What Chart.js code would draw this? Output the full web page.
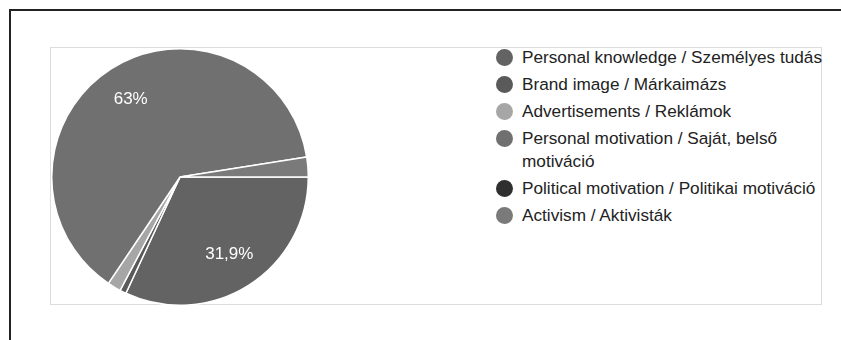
<!DOCTYPE html>
<html>
<head>
<meta charset="utf-8">
<script src="https://cdn.jsdelivr.net/npm/chart.js@4"></script>
<style>
  body { margin: 0; background: #fff; font-family: "Liberation Sans", Arial, sans-serif; }
  #frame { position: absolute; left: 9px; top: 9px; width: 900px; height: 400px; border: 2px solid #222; }
  #box { position: absolute; left: 50px; top: 47px; width: 772px; height: 258px; box-sizing: border-box; border: 1px solid #dcdcdc; }
  #pie { position: absolute; left: 51px; top: 48px; }
  #legend { position: absolute; left: 496px; top: 45.75px; margin: 0; padding: 0; list-style: none; }
  #legend li { position: relative; padding-left: 26px; width: 304px; font-size: 17.2px; line-height: 23.5px; color: #222; margin-bottom: 3.5px; }
  #legend li span { position: absolute; left: 0; top: 3px; width: 17px; height: 17px; border-radius: 50%; }
</style>
</head>
<body>
<div id="frame"></div>
<div id="box"></div>
<canvas id="pie" width="258" height="258"></canvas>
<ul id="legend"></ul>
<script>
// válaszok megoszlása (%)
var labels = [
  "Personal knowledge / Személyes tudás",
  "Brand image / Márkaimázs",
  "Advertisements / Reklámok",
  "Personal motivation / Saját, belső motiváció",
  "Political motivation / Politikai motiváció",
  "Activism / Aktivisták"
];
var shares = [31.9, 0.8, 1.7, 63.0, 0, 2.5];
var colors = ["#636363", "#5a5a5a", "#a6a6a6", "#707070", "#2f2f2f", "#7a7a7a"];

// százalék felirat a nagyobb szeleteken
var sliceText = {
  id: "sliceText",
  afterDatasetsDraw: function (chart) {
    var ctx = chart.ctx;
    var arcs = chart.getDatasetMeta(0).data;
    ctx.save();
    ctx.fillStyle = "#fff";
    ctx.font = "17px 'Liberation Sans', Arial, sans-serif";
    ctx.textAlign = "center";
    ctx.textBaseline = "middle";
    arcs.forEach(function (arc, i) {
      var v = shares[i];
      if (v < 5) return;
      var p = arc.getProps(["x", "y", "startAngle", "endAngle", "outerRadius"]);
      var mid = (p.startAngle + p.endAngle) / 2;
      var r = p.outerRadius * 0.715;
      var txt = String(v % 1 === 0 ? v.toFixed(0) : v.toFixed(1)).replace(".", ",") + "%";
      ctx.fillText(txt, p.x + Math.cos(mid) * r, p.y + Math.sin(mid) * r);
    });
    ctx.restore();
  }
};

var pieChart = new Chart(document.getElementById("pie"), {
  type: "pie",
  data: {
    labels: labels,
    datasets: [
      {
        data: shares,
        backgroundColor: colors,
        borderColor: "#fff",
        borderWidth: 1.5,
      },
    ],
  },
  options: {
    responsive: false,
    animation: false,
    rotation: 90,
    plugins: {
      legend: { display: false },
      tooltip: { enabled: false },
    },
  },
  plugins: [sliceText],
});

// jelmagyarázat a chart saját címkéiből
var items = Chart.overrides.pie.plugins.legend.labels.generateLabels(pieChart);
var ul = document.getElementById("legend");
items.forEach(function (it) {
  var li = document.createElement("li");
  var dot = document.createElement("span");
  dot.style.background = it.fillStyle;
  li.appendChild(dot);
  li.appendChild(document.createTextNode(it.text));
  ul.appendChild(li);
});
</script>
</body>
</html>
